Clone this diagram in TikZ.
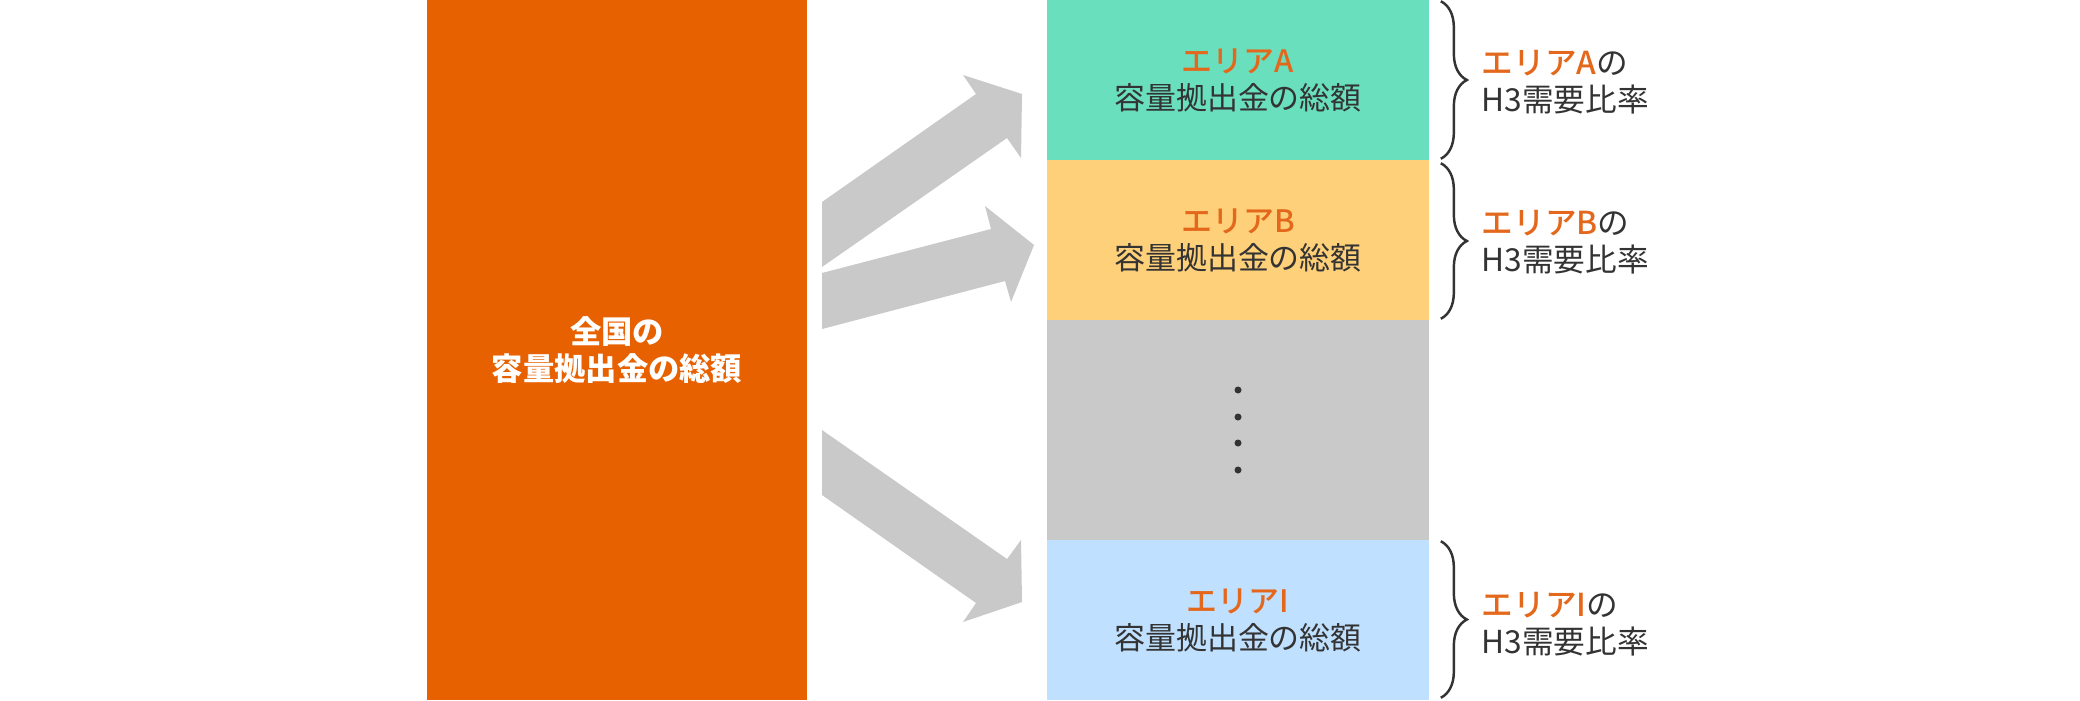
\documentclass[tikz,border=0pt]{standalone}
\usepackage{fontspec}
\usepackage{tikz}
\usetikzlibrary{positioning, decorations.pathreplacing}
\newfontfamily\jpfont{Noto Sans CJK JP}
\IfFontExistsTF{Noto Sans CJK JP Medium}
    {\newfontfamily\jpmed{Noto Sans CJK JP Medium}}
    {\newcommand{\jpmed}{\jpfont\bfseries}}
\definecolor{Naranja}{RGB}{232, 97, 0}
\definecolor{NaranjaTexto}{RGB}{228, 104, 28}
\definecolor{Verde}{RGB}{106, 223, 189}
\definecolor{Amarillo}{RGB}{255, 208, 122}
\definecolor{Gris}{RGB}{200, 201, 200}
\definecolor{Celeste}{RGB}{192, 224, 255}
\definecolor{Texto}{RGB}{51, 51, 51}

\begin{document}
\begin{tikzpicture}[x=0.01cm, y=-0.01cm,
        total/.style={rectangle, fill=Naranja, minimum width=3.8cm, minimum height=7cm, align=center, text=white, font=\jpfont\bfseries\fontsize{8.9}{10.7}\selectfont},
        area/.style={rectangle, minimum width=3.82cm, minimum height=1.6cm, align=center, text=Texto, font=\jpfont\fontsize{8.8}{10.5}\selectfont},
        ratio/.style={anchor=west, inner sep=0pt, align=left, text=Texto, font=\jpfont\fontsize{9}{10.5}\selectfont},
        flecha/.style={fill=Gris},
        llave/.style={decorate, decoration={brace, amplitude=0.26cm}, draw=Texto, line width=0.7pt},
        punto/.style={circle, fill=Texto, inner sep=0pt, minimum size=0.07cm}
    ]
        \useasboundingbox (0,0) rectangle (2080,700);

        % ================= TOTAL NACIONAL (IZQUIERDA) =================
        \node[total] (total_nac) at (617,350) {全国の\\容量拠出金の総額};

        % ================= AREAS (COLUMNA DERECHA) =================
        \node[area, fill=Verde] (area_a) at (1238,80) {\textcolor{NaranjaTexto}{\jpmed エリアA}\\容量拠出金の総額};
        \node[area, fill=Amarillo] (area_b) at (1238,240) {\textcolor{NaranjaTexto}{\jpmed エリアB}\\容量拠出金の総額};
        \node[area, fill=Gris, minimum height=2.2cm] (area_resto) at (1238,430) {};
        \node[area, fill=Celeste] (area_i) at (1238,620) {\textcolor{NaranjaTexto}{\jpmed エリアI}\\容量拠出金の総額};

        \foreach \y in {390,417,443,470}
            \node[punto] (punto\y) at (1238,\y) {};

        % Flechas de reparto
        \fill[flecha] (822,202) -- (976,94) -- (963,75) -- (1022,94) -- (1021,158) -- (1007,138) -- (822,267) -- cycle;
        \fill[flecha] (822,273) -- (991,229) -- (985,206) -- (1034,245) -- (1011,302) -- (1005,281) -- (822,329) -- cycle;
        \fill[flecha] (822,430) -- (1007,559) -- (1021,540) -- (1022,602) -- (963,622) -- (976,603) -- (822,495) -- cycle;

        % ================= LLAVES Y RATIOS =================
        \draw[llave] ([xshift=0.11cm, yshift=-0.02cm]area_a.north east) -- ([xshift=0.11cm, yshift=0.02cm]area_a.south east);
        \draw[llave] ([xshift=0.11cm, yshift=-0.04cm]area_b.north east) -- ([xshift=0.11cm, yshift=0.02cm]area_b.south east);
        \draw[llave] ([xshift=0.11cm, yshift=-0.02cm]area_i.north east) -- ([xshift=0.11cm, yshift=0.03cm]area_i.south east);

        \node[ratio] (ratio_a) at (1481,82) {\textcolor{NaranjaTexto}{\jpmed エリアA}の\\H3需要比率};
        \node[ratio] (ratio_b) at (1481,242) {\textcolor{NaranjaTexto}{\jpmed エリアB}の\\H3需要比率};
        \node[ratio] (ratio_i) at (1481,624) {\textcolor{NaranjaTexto}{\jpmed エリアI}の\\H3需要比率};
    \end{tikzpicture}
\end{document}
